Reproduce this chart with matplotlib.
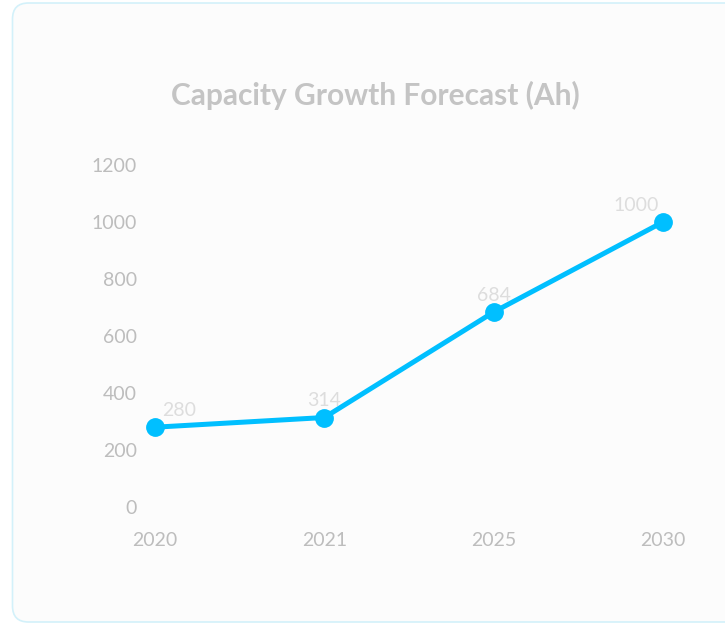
import matplotlib
matplotlib.use("Agg")
import matplotlib.pyplot as plt
from matplotlib.patches import FancyBboxPatch
from matplotlib.transforms import IdentityTransform

years = ["2020", "2021", "2025", "2030"]
capacity = [280, 314, 684, 1000]
y_ticks = [0, 200, 400, 600, 800, 1000, 1200]
title = "Capacity Growth Forecast (Ah)"

plt.rcParams['font.family'] = ['Lato', 'DejaVu Sans']

W, H = 725, 624
fig = plt.figure(figsize=(W / 100, H / 100), dpi=100)
fig.patch.set_facecolor("white")

card = FancyBboxPatch((12.5, 2), 740, 619, boxstyle="round,pad=0,rounding_size=16",
                      transform=IdentityTransform(), facecolor="#fcfcfc",
                      edgecolor="#d3f1fa", linewidth=1.2, zorder=-5)
fig.patches.append(card)

ax = fig.add_axes([155 / W, (H - 507) / H, (663 - 155) / W, (507 - 165) / H])
ax.set_zorder(2)
ax.set_facecolor("none")
x = list(range(len(years)))
ax.plot(x, capacity, color="#00bfff", linewidth=3.6, marker="o", markersize=12.5,
        clip_on=False, zorder=3)
n = len(years)
for i, (xi, v) in enumerate(zip(x, capacity)):
    if i == 0:
        ha, dx = "left", 5
    elif i == n - 1:
        ha, dx = "right", -3
    else:
        ha, dx = "center", 0
    ax.annotate(str(v), (xi, v), xytext=(dx, 6), textcoords="offset points",
                ha=ha, va="bottom", color="#dddddd", fontsize=14, zorder=4)

ax.set_xlim(0, n - 1)
ax.set_ylim(0, 1200)
ax.set_xticks(x)
ax.set_xticklabels(years)
ax.set_yticks(y_ticks)
ax.tick_params(axis="both", length=0, colors="#bdbdbd", labelsize=14)
ax.tick_params(axis="y", pad=13)
ax.tick_params(axis="x", pad=18)
for s in ax.spines.values():
    s.set_visible(False)

fig.text(375 / W, 1 - 95 / H, title, ha="center", va="center", fontsize=21.5,
         fontweight="bold", color="#c4c4c4")

fig.savefig("out.png", dpi=100)
